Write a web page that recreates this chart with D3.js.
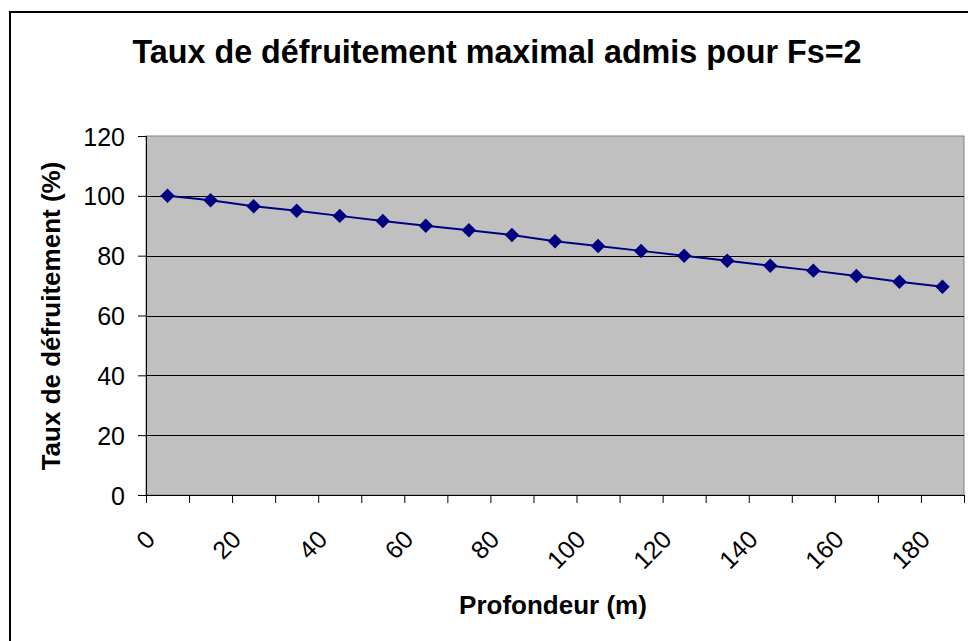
<!DOCTYPE html>
<html>
<head>
<meta charset="utf-8">
<script src="https://cdn.jsdelivr.net/npm/d3@7"></script>
<style>
body { margin: 0; background: #fff; }
svg text { font-family: Arial, "Liberation Sans", sans-serif; }
</style>
</head>
<body>
<div id="canvas"></div>
<script>
// depth categories (m) and max allowed rate (%)
var categories = ["0", "10", "20", "30", "40", "50", "60", "70", "80", "90",
    "100", "110", "120", "130", "140", "150", "160", "170", "180"]
var taux = [100, 98.5, 96.5, 95, 93.3, 91.6, 90, 88.5, 86.9, 84.8,
    83.2, 81.6, 80, 78.3, 76.6, 75, 73.2, 71.3, 69.6]
var yTicks = [0, 20, 40, 60, 80, 100, 120]
var xLabels = ["0", "20", "40", "60", "80", "100", "120", "140", "160", "180"]

var width = 968
var height = 641
var plot = { left: 146, right: 964, top: 136, bottom: 495 }

var svg = d3.select("#canvas")
    .append("svg")
    .attr("width", width)
    .attr("height", height)

// chart border (runs off the right and bottom edge)
svg.append("rect")
    .attr("x", 10)
    .attr("y", 12)
    .attr("width", 1000)
    .attr("height", 700)
    .attr("fill", "none")
    .attr("stroke", "#000")
    .attr("stroke-width", 2)

var xScale = d3.scaleBand().domain(categories).range([plot.left, plot.right]).padding(0)
var tickScale = d3.scaleLinear().domain([0, categories.length]).range([plot.left, plot.right])
var yScale = d3.scaleLinear().domain([0, 120]).range([plot.bottom, plot.top])

// plot background
svg.append("rect")
    .attr("x", plot.left)
    .attr("y", plot.top)
    .attr("width", plot.right - plot.left)
    .attr("height", plot.bottom - plot.top)
    .attr("fill", "#c0c0c0")
    .attr("stroke", "#808080")
    .attr("stroke-width", 1)

// gridlines
svg.append("g")
    .selectAll("line")
    .data(yTicks.filter(function (d) { return d > 0 && d < 120 }))
    .enter()
    .append("line")
    .attr("x1", plot.left)
    .attr("x2", plot.right)
    .attr("y1", function (d) { return Math.round(yScale(d)) + 0.5 })
    .attr("y2", function (d) { return Math.round(yScale(d)) + 0.5 })
    .attr("stroke", "#000")
    .attr("stroke-width", 1)

// y axis
var yAxis = svg.append("g")
    .attr("transform", "translate(" + plot.left + ",0)")
    .call(d3.axisLeft(yScale).tickValues(yTicks).tickSize(8).tickPadding(13))
yAxis.select(".domain").attr("stroke", "#000")
yAxis.selectAll("text")
    .attr("font-size", 25)
    .attr("fill", "#000")
    .attr("dy", "0.36em")

// x axis tick marks at category boundaries
var xTicks = svg.append("g")
    .attr("transform", "translate(0," + plot.bottom + ")")
    .call(d3.axisBottom(tickScale).ticks(categories.length).tickSize(8).tickFormat(""))
xTicks.select(".domain").attr("stroke", "#000")

// x axis labels, every other category, rotated
var xAxis = svg.append("g")
    .attr("transform", "translate(0," + plot.bottom + ")")
    .call(d3.axisBottom(xScale).tickValues(xLabels).tickSize(0))
xAxis.select(".domain").remove()
xAxis.selectAll("text")
    .attr("font-size", 25)
    .attr("fill", "#000")
    .attr("y", 0)
    .attr("dy", 0)
    .attr("text-anchor", "end")
    .attr("transform", "translate(-11,46) rotate(-45)")

// line + markers
var line = d3.line()
    .x(function (d, i) { return xScale(categories[i]) + xScale.bandwidth() / 2 })
    .y(function (d) { return yScale(d) })

svg.append("path")
    .datum(taux)
    .attr("d", line)
    .attr("fill", "none")
    .attr("stroke", "#000080")
    .attr("stroke-width", 2)

var diamond = d3.symbol().type(d3.symbolSquare).size(105)
svg.selectAll(".dot")
    .data(taux)
    .enter()
    .append("path")
    .attr("class", "dot")
    .attr("d", diamond)
    .attr("fill", "#000080")
    .attr("transform", function (d, i) {
        return "translate(" + (xScale(categories[i]) + xScale.bandwidth() / 2) + "," + yScale(d) + ") rotate(45)"
    })

// titles
svg.append("text")
    .attr("x", 497)
    .attr("y", 63)
    .attr("text-anchor", "middle")
    .attr("font-size", 32.3)
    .attr("font-weight", "bold")
    .text("Taux de défruitement maximal admis pour Fs=2")

svg.append("text")
    .attr("transform", "translate(60,316) rotate(-90)")
    .attr("text-anchor", "middle")
    .attr("font-size", 26)
    .attr("font-weight", "bold")
    .text("Taux de défruitement (%)")

svg.append("text")
    .attr("x", 553)
    .attr("y", 614)
    .attr("text-anchor", "middle")
    .attr("font-size", 26)
    .attr("font-weight", "bold")
    .text("Profondeur (m)")
</script>
</body>
</html>
